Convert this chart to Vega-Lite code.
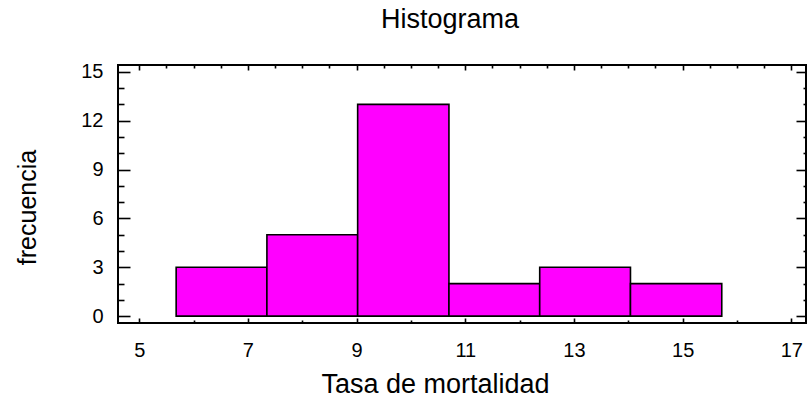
{
  "$schema": "https://vega.github.io/schema/vega-lite/v6.json",
  "autosize": {"type": "none"},
  "width": 688,
  "height": 258,
  "padding": {"left": 118, "top": 65, "right": 1, "bottom": 79},
  "background": "white",
  "title": {"text": "Histograma", "font": "Liberation Sans", "fontSize": 27, "fontWeight": "normal", "color": "black", "anchor": "middle", "dx": -12, "baseline": "alphabetic", "offset": 7},
  "config": {
    "view": {"stroke": "black", "strokeWidth": 2},
    "axis": {"domain": false, "grid": false, "tickColor": "black", "tickWidth": 1.6, "labelFont": "Liberation Sans", "labelFontSize": 20, "labelColor": "black", "titleFont": "Liberation Sans", "titleColor": "black", "titleFontWeight": "normal"}
  },
  "data": {"values": [
    {"bin_start": 5.68, "bin_end": 7.35, "count": 3},
    {"bin_start": 7.35, "bin_end": 9.02, "count": 5},
    {"bin_start": 9.02, "bin_end": 10.70, "count": 13},
    {"bin_start": 10.70, "bin_end": 12.37, "count": 2},
    {"bin_start": 12.37, "bin_end": 14.04, "count": 3},
    {"bin_start": 14.04, "bin_end": 15.72, "count": 2}
  ]},
  "resolve": {"axis": {"x": "independent", "y": "independent"}},
  "layer": [
    {
      "mark": {"type": "rect", "fill": "#FF00FF", "stroke": "black", "strokeWidth": 1.6},
      "encoding": {
        "x": {"field": "bin_start", "type": "quantitative", "scale": {"domain": [4.61, 17.27], "nice": false, "zero": false},
          "axis": {"orient": "bottom", "title": "Tasa de mortalidad", "titleFontSize": 27, "titleX": 317, "titleY": 69, "titleBaseline": "alphabetic", "titleAnchor": "start", "titleAlign": "center",
            "values": [5,5.5,6,6.5,7,7.5,8,8.5,9,9.5,10,10.5,11,11.5,12,12.5,13,13.5,14,14.5,15,15.5,16,16.5,17],
            "format": "d",
            "labelExpr": "datum.value % 2 === 1 ? datum.label : ''",
            "tickSize": {"condition": {"test": "datum.value % 2 === 1", "value": -5}, "value": -3},
            "labelPadding": 38, "labelBaseline": "alphabetic", "labelFlush": false, "labelOverlap": false}},
        "x2": {"field": "bin_end"},
        "y": {"field": "count", "type": "quantitative", "scale": {"domain": [-0.42, 15.42], "nice": false, "zero": false},
          "axis": {"orient": "left", "title": "frecuencia", "titleFontSize": 25, "titleX": -83, "titleY": 142, "titleAngle": -90, "titleBaseline": "alphabetic", "titleAlign": "center", "titleAnchor": "start",
            "values": [0,1,2,3,4,5,6,7,8,9,10,11,12,13,14,15],
            "format": "d",
            "labelExpr": "datum.value % 3 === 0 ? datum.label : ''",
            "tickSize": {"condition": {"test": "datum.value % 3 === 0", "value": -12}, "value": -6},
            "labelPadding": 27, "labelFlush": false, "labelOverlap": false}},
        "y2": {"datum": 0}
      }
    },
    {
      "mark": {"type": "rect", "opacity": 0},
      "encoding": {
        "x": {"field": "bin_start", "type": "quantitative",
          "axis": {"orient": "top", "title": null, "labels": false,
            "values": [5,5.5,6,6.5,7,7.5,8,8.5,9,9.5,10,10.5,11,11.5,12,12.5,13,13.5,14,14.5,15,15.5,16,16.5,17],
            "tickSize": {"condition": {"test": "datum.value % 2 === 1", "value": -5}, "value": -3}}},
        "x2": {"field": "bin_end"},
        "y": {"field": "count", "type": "quantitative",
          "axis": {"orient": "right", "title": null, "labels": false,
            "values": [0,1,2,3,4,5,6,7,8,9,10,11,12,13,14,15],
            "tickSize": {"condition": {"test": "datum.value % 3 === 0", "value": -10}, "value": -3}}},
        "y2": {"datum": 0}
      }
    }
  ]
}
